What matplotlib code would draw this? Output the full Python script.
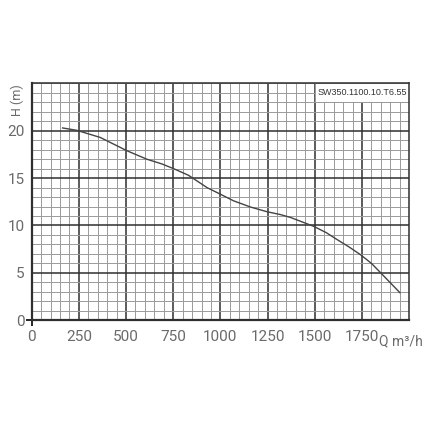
import matplotlib
matplotlib.use("Agg")
import matplotlib.pyplot as plt
from matplotlib.patches import Rectangle

flow = [164, 239, 363, 504, 610, 690, 752, 831, 929, 1000, 1070, 1159, 1247, 1318, 1371, 1430, 1495, 1560, 1619, 1680, 1743, 1800, 1849, 1900, 1951]
head = [20.3, 20.05, 19.3, 17.9, 17.0, 16.5, 16.0, 15.3, 14.0, 13.3, 12.6, 11.95, 11.45, 11.15, 10.85, 10.4, 9.9, 9.25, 8.5, 7.75, 6.9, 6.0, 5.0, 3.95, 2.9]
x_ticks = [0, 250, 500, 750, 1000, 1250, 1500, 1750]
y_ticks = [0, 5, 10, 15, 20]
model = "SW350.1100.10.T6.55"

fam = ['Roboto', 'DejaVu Sans']
fig = plt.figure(figsize=(4.28, 4.28), dpi=100)
ax = fig.add_axes([0.074, 0.252, 0.882, 0.553])
ax.set_xlim(0, 2000)
ax.set_ylim(0, 25)
ax.set_xticks(x_ticks)
ax.set_yticks(y_ticks)
ax.set_xticks(range(0, 2001, 50), minor=True)
ax.set_yticks(range(0, 26, 1), minor=True)
ax.set_axisbelow(True)
ax.grid(which='major', color='#2f2f2f', linewidth=1.1)
ax.grid(which='minor', color='#9a9a9a', linewidth=0.7)
ax.tick_params(which='both', length=0)
ax.tick_params(axis='x', which='major', pad=7)
ax.tick_params(axis='y', which='major', pad=5)
for t in (ax.xaxis.get_major_ticks()[0], ax.yaxis.get_major_ticks()[0]):
    t.tick1line.set_markersize(4)
    t.tick1line.set_markeredgewidth(1.2)
    t.tick1line.set_color('#333333')
for lab in ax.get_xticklabels() + ax.get_yticklabels():
    lab.set_family(fam)
    lab.set_fontweight('normal')
    lab.set_fontsize(11)
    lab.set_color('#6a6a6a')
for s in ax.spines.values():
    s.set_color('#2f2f2f')
    s.set_linewidth(1.1)
ax.spines['left'].set_linewidth(1.6)
ax.spines['bottom'].set_linewidth(1.6)

ax.plot(flow, head, color='#444444', linewidth=1.0, zorder=3)

ax.add_patch(Rectangle((1500, 23), 500, 2, facecolor='white', edgecolor='#9a9a9a', linewidth=0.7, zorder=2))
ax.text(1750, 24, model, ha='center', va='center', fontsize=6.5, family='Liberation Sans', color='#333333', zorder=4)

fig.text(17 / 428, 1 - 100 / 428, "H (m)", rotation=90, ha='center', va='center', fontsize=9, color='#6a6a6a', family=fam)
fig.text(379 / 428, 1 - 341 / 428, "Q m³/h", ha='left', va='center', fontsize=10, color='#6a6a6a', family=fam)

fig.savefig("out.png", dpi=100, facecolor='white')
